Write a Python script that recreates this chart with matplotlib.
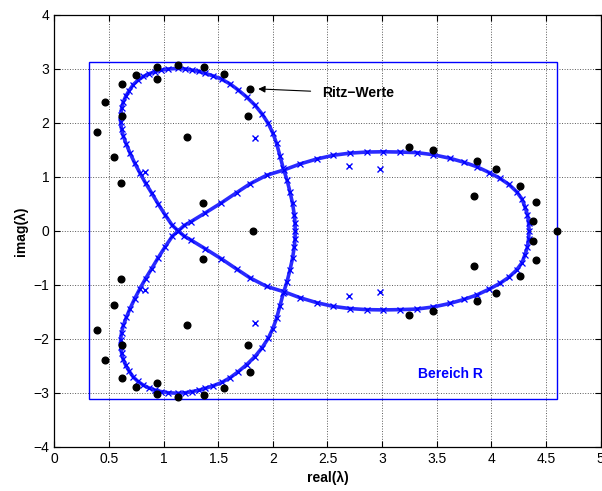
import matplotlib
matplotlib.use("Agg")
import matplotlib.pyplot as plt
from matplotlib.patches import Rectangle

plt.rcParams['font.family'] = ['Liberation Sans', 'DejaVu Sans']

# Spectrum curve (blue x), left loop: upper-left lobe, vertical part, lower-left lobe
left_re = [1.134, 1.080, 1.013, 0.950, 0.891, 0.835, 0.784, 0.735, 0.693, 0.660, 0.632, 0.615, 0.607,
           0.608, 0.616, 0.630, 0.653, 0.685, 0.723, 0.765, 0.815, 0.865, 0.921, 0.980, 1.043,
           1.134, 1.200, 1.257, 1.320, 1.379, 1.455, 1.531, 1.610, 1.683, 1.760, 1.836, 1.900,
           1.958, 2.000, 2.034, 2.065, 2.095, 2.130, 2.157, 2.180, 2.196, 2.203, 2.205,
           2.203, 2.196, 2.180, 2.157, 2.130, 2.095, 2.065, 2.034, 2.000, 1.958, 1.900, 1.836,
           1.760, 1.683, 1.610, 1.531, 1.455, 1.379, 1.320, 1.257, 1.200, 1.134,
           1.043, 0.980, 0.921, 0.865, 0.815, 0.765, 0.723, 0.685, 0.653, 0.630, 0.616, 0.608,
           0.607, 0.615, 0.632, 0.660, 0.693, 0.735, 0.784, 0.835, 0.891, 0.950, 1.013, 1.080, 1.134]
left_im = [0.00, 0.10, 0.30, 0.50, 0.70, 0.885, 1.07, 1.26, 1.44, 1.60, 1.75, 1.89, 2.02,
           2.15, 2.27, 2.38, 2.49, 2.60, 2.71, 2.79, 2.86, 2.91, 2.95, 2.98, 3.00,
           3.01, 3.00, 2.98, 2.955, 2.92, 2.87, 2.81, 2.72, 2.61, 2.48, 2.33, 2.17,
           1.99, 1.81, 1.62, 1.39, 1.16, 0.94, 0.72, 0.51, 0.30, 0.15, 0.00,
           -0.15, -0.30, -0.51, -0.72, -0.94, -1.16, -1.39, -1.62, -1.81, -1.99, -2.17, -2.33,
           -2.48, -2.61, -2.72, -2.81, -2.87, -2.92, -2.955, -2.98, -3.00, -3.01,
           -3.00, -2.98, -2.95, -2.91, -2.86, -2.79, -2.71, -2.60, -2.49, -2.38, -2.27, -2.15,
           -2.02, -1.89, -1.75, -1.60, -1.44, -1.26, -1.07, -0.885, -0.70, -0.50, -0.30, -0.10, 0.00]

# Spectrum curve, right loop
right_re = [1.134, 1.190, 1.250, 1.380, 1.530, 1.670, 1.790, 1.943, 2.104, 2.250, 2.400, 2.553, 2.705,
            2.860, 3.010, 3.160, 3.315, 3.470, 3.620, 3.750, 3.864, 3.980, 4.077, 4.160, 4.230,
            4.280, 4.306, 4.330, 4.340, 4.346,
            4.340, 4.330, 4.306, 4.280, 4.230, 4.160, 4.077, 3.980, 3.864, 3.750, 3.620, 3.470,
            3.315, 3.160, 3.010, 2.860, 2.705, 2.553, 2.400, 2.250, 2.104, 1.943, 1.790, 1.670,
            1.530, 1.380, 1.250, 1.190, 1.134]
right_im = [0.00, 0.10, 0.17, 0.33, 0.52, 0.71, 0.87, 1.03, 1.13, 1.24, 1.33, 1.40, 1.44,
            1.46, 1.465, 1.46, 1.45, 1.41, 1.345, 1.27, 1.19, 1.08, 0.974, 0.86, 0.727,
            0.59, 0.448, 0.30, 0.15, 0.00,
            -0.15, -0.30, -0.448, -0.59, -0.727, -0.86, -0.974, -1.08, -1.19, -1.27, -1.345, -1.41,
            -1.45, -1.46, -1.465, -1.46, -1.44, -1.40, -1.33, -1.24, -1.13, -1.03, -0.87, -0.71,
            -0.52, -0.33, -0.17, -0.10, 0.00]

# Isolated blue x eigenvalues
iso_re = [1.836, 0.833, 2.693, 2.980, 1.836, 0.833, 2.693, 2.980]
iso_im = [1.716, 1.09, 1.203, 1.14, -1.716, -1.09, -1.203, -1.14]

# Ritz values (black dots)
ritz_re = [0.937, 1.134, 1.367, 1.556, 0.750, 0.942, 0.622, 1.790, 0.464, 0.617, 1.772, 0.393,
           1.217, 0.546, 0.610, 1.362, 3.242, 3.462, 3.864, 4.044, 4.264, 3.840, 4.410, 4.383,
           1.820, 4.600,
           0.937, 1.134, 1.367, 1.556, 0.750, 0.942, 0.622, 1.790, 0.464, 0.617, 1.772, 0.393,
           1.217, 0.546, 0.610, 1.362, 3.242, 3.462, 3.864, 4.044, 4.264, 3.840, 4.410, 4.383]
ritz_im = [3.03, 3.08, 3.04, 2.91, 2.89, 2.815, 2.72, 2.62, 2.39, 2.12, 2.12, 1.83,
           1.74, 1.375, 0.888, 0.52, 1.555, 1.494, 1.295, 1.153, 0.832, 0.647, 0.536, 0.19,
           0.0, 0.0,
           -3.03, -3.08, -3.04, -2.91, -2.89, -2.815, -2.72, -2.62, -2.39, -2.12, -2.12, -1.83,
           -1.74, -1.375, -0.888, -0.52, -1.555, -1.494, -1.295, -1.153, -0.832, -0.647, -0.536, -0.19]

# Region R
region_x = [0.32, 4.60]
region_y = [-3.12, 3.12]

xticks = [0, 0.5, 1, 1.5, 2, 2.5, 3, 3.5, 4, 4.5, 5]
xticklabels = ['0', '0.5', '1', '1.5', '2', '2.5', '3', '3.5', '4', '4.5', '5']
yticks = [-4, -3, -2, -1, 0, 1, 2, 3, 4]
yticklabels = ['\u22124', '\u22123', '\u22122', '\u22121', '0', '1', '2', '3', '4']

fig = plt.figure(figsize=(6.02, 4.91), dpi=100)
ax = fig.add_axes([0.0902, 0.0902, 0.9076, 0.8793])

blue = '#0000ff'
for xs, ys in [(left_re, left_im), (right_re, right_im)]:
    ax.plot(xs, ys, color='#2a2aff', lw=2.6, zorder=3, solid_joinstyle='round')
    ax.plot(xs, ys, linestyle='none', marker='x', color=blue, ms=5, mew=0.9, zorder=3)

ax.plot(iso_re, iso_im, linestyle='none', marker='x', color=blue, ms=4.5, mew=1.0, zorder=3)
ax.plot(ritz_re, ritz_im, linestyle='none', marker='o', color='black', ms=4.8, zorder=4)

ax.add_patch(Rectangle((region_x[0], region_y[0]), region_x[1] - region_x[0],
                       region_y[1] - region_y[0], fill=False, edgecolor=blue, lw=1.0, zorder=2))

ax.text(3.33, -2.65, 'Bereich R', color=blue, fontsize=10, fontweight='bold',
        ha='left', va='center')
ax.annotate('Ritz\u2212Werte', xy=(1.866, 2.63), xytext=(2.447, 2.55),
            fontsize=10, fontweight='bold', ha='left', va='center',
            arrowprops=dict(arrowstyle='-|>', color='black', lw=0.8,
                            shrinkA=6, shrinkB=0, mutation_scale=10))

ax.set_xlim(0, 5)
ax.set_ylim(-4, 4)
ax.set_xticks(xticks)
ax.set_xticklabels(xticklabels)
ax.set_yticks(yticks)
ax.set_yticklabels(yticklabels)
ax.tick_params(direction='in', top=True, right=True, length=4, width=0.8, labelsize=10)
ax.grid(True, linestyle=':', color='0.35', lw=0.7)
ax.set_axisbelow(True)
for s in ax.spines.values():
    s.set_linewidth(0.9)

ax.set_xlabel('real(\u03bb)', fontsize=10, fontweight='bold', labelpad=4)
ax.set_ylabel('imag(\u03bb)', fontsize=10, fontweight='bold', labelpad=4)

fig.savefig('out.png', dpi=100)
